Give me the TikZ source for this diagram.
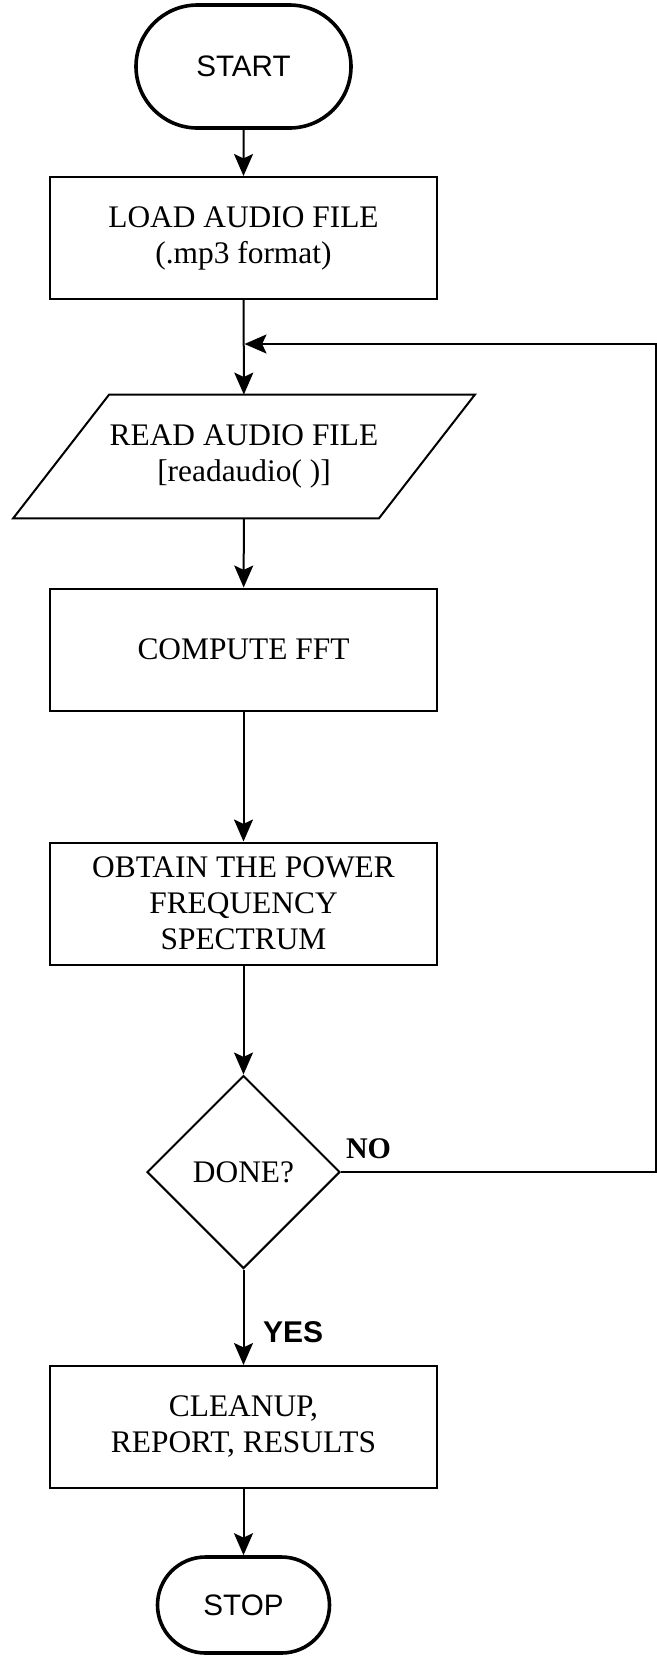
\documentclass[tikz,border=0pt]{standalone}
\usepackage{fontspec}
\setmainfont{Liberation Serif}
\setsansfont{Liberation Sans}
\usetikzlibrary{shapes.geometric,shapes.misc,arrows.meta}

\begin{document}
\begin{tikzpicture}[x=0.5pt,y=0.5pt,
        terminal/.style={rounded rectangle, draw, line width=1.8pt, inner sep=0pt,
            minimum width=107.5pt, minimum height=61.5pt, font=\sffamily\fontsize{14.8}{16}\selectfont},
        process/.style={rectangle, draw, line width=1pt, inner sep=0pt, align=center,
            minimum width=193.5pt, minimum height=61pt, font=\fontsize{15.7}{18}\selectfont},
        io/.style={rectangle, inner sep=0pt, align=center,
            minimum width=230.5pt, minimum height=61.5pt, font=\fontsize{15.7}{18}\selectfont},
        decision/.style={diamond, aspect=1, draw, line width=1pt, inner sep=0pt,
            minimum width=96.5pt, minimum height=96.5pt, font=\fontsize{15.7}{18}\selectfont},
        flow/.style={-{Stealth[length=11pt,width=9.5pt,inset=2.2pt]}, line width=1pt}]
        \useasboundingbox (0,0) rectangle (657,-1656);

        % Blocks:
        \node[terminal] (start) at (243.5,-66.5) {START};
        \node[process] (load) at (243.5,-238) {LOAD AUDIO FILE\\(.mp3 format)};
        \node[io] (read) at (244,-456.5) {READ AUDIO FILE\\{[}readaudio( ){]}};
        \draw[line width=1pt] ([xshift=48pt]read.north west) -- (read.north east)
            -- ([xshift=-48pt]read.south east) -- (read.south west) -- cycle;
        \node[process] (fft) at (243.5,-649.5) {COMPUTE FFT};
        \node[process] (power) at (243.5,-903.5) {OBTAIN THE POWER\\FREQUENCY\\SPECTRUM};
        \node[decision] (done) at (243.5,-1172) {DONE?};
        \node[process] (cleanup) at (243.5,-1427) {CLEANUP,\\REPORT, RESULTS};
        \node[terminal, minimum width=86pt, minimum height=48pt] (stop) at (243.5,-1605) {STOP};

        % loop back points
        \coordinate (corner) at (655.5,-1172);
        \coordinate (merge) at (243.5,-344);

        % Flow:
        \draw[flow] (start) -- (load);
        \draw[flow] (load) -- (read);
        \draw[flow] (read) -- (fft);
        \draw[flow] (fft) -- (power);
        \draw[flow] (power) -- (done);
        \draw[flow] (done) -- node[pos=0.765, anchor=base west, xshift=9.3pt, inner sep=0pt,
            font=\sffamily\bfseries\fontsize{15}{16}\selectfont] {YES} (cleanup);
        \draw[flow] (cleanup) -- (stop);
        \draw[flow, shorten >=0.5pt] (done) -- node[pos=0, anchor=base west, xshift=2pt, yshift=7pt,
            inner sep=0pt, font=\bfseries\fontsize{15}{18}\selectfont] {NO} (corner) |- (merge);
\end{tikzpicture}
\end{document}
